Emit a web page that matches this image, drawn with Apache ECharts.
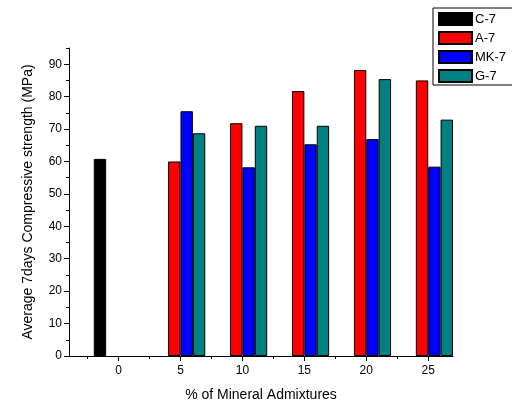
<!DOCTYPE html>
<html><head><meta charset="utf-8">
<script src="https://cdn.jsdelivr.net/npm/echarts@6/dist/echarts.min.js"></script>
<style>html,body{margin:0;padding:0;background:#fff}#c{width:512px;height:407px}</style>
</head><body><div id="c"></div>
<script>
const categories = [0, 5, 10, 15, 20, 25];
const seriesNames = ['C-7', 'A-7', 'MK-7', 'G-7'];
const c7 = [60.8, null, null, null, null, null];
const a7 = [null, 60.0, 71.8, 81.7, 88.2, 85.0];
const mk7 = [null, 75.5, 58.2, 65.3, 66.9, 58.4];
const g7 = [null, 68.7, 71.0, 71.0, 85.4, 72.9];
const xTickLabels = [0, 5, 10, 15, 20, 25];
const xMinorTicks = [-2.5, 2.5, 7.5, 12.5, 17.5, 22.5];
const yTickLabels = [0, 10, 20, 30, 40, 50, 60, 70, 80, 90];
const yMinorTicks = [5, 15, 25, 35, 45, 55, 65, 75, 85, 95];

const colors = ['#000000', '#ff0000', '#0000ff', '#008080'];
const offsets = [-1.5, -0.5, 0.5, 1.5];
const allVals = [c7, a7, mk7, g7];

const chart = echarts.init(document.getElementById('c'));
const font = 'Liberation Sans, Arial, sans-serif';
const axisLine = {show: true, onZero: false, lineStyle: {color: '#000', width: 1}};
chart.setOption({
  animation: false,
  backgroundColor: '#fff',
  textStyle: {fontFamily: font, color: '#000'},
  grid: {left: 69, right: 59, top: 48, bottom: 49},
  legend: {
    orient: 'vertical', left: 433, top: 8,
    icon: 'rect', itemWidth: 33, itemHeight: 12, itemGap: 5,
    padding: [4, 10, 2, 5],
    borderColor: '#000', borderWidth: 1, borderRadius: 0, backgroundColor: '#fff',
    textStyle: {fontSize: 13, color: '#000', fontFamily: font, padding: [0, 0, 0, -2]},
    data: seriesNames
  },
  xAxis: [
    {type: 'value', min: -4, max: 27, axisLine,
     splitLine: {show: false},
     axisTick: {show: true, inside: false, length: 5, customValues: xTickLabels, lineStyle: {color: '#000'}},
     axisLabel: {customValues: xTickLabels, fontSize: 12, color: '#000', margin: 9, fontFamily: font},
     name: '% of Mineral Admixtures', nameLocation: 'middle', nameGap: 32,
     nameTextStyle: {fontSize: 14, color: '#000', fontFamily: font}},
    {type: 'value', min: -4, max: 27, position: 'bottom', axisLine: {show: false, onZero: false},
     splitLine: {show: false},
     axisTick: {show: true, inside: false, length: 3, customValues: xMinorTicks, lineStyle: {color: '#000'}},
     axisLabel: {show: false}}
  ],
  yAxis: [
    {type: 'value', min: 0, max: 95, axisLine,
     splitLine: {show: false},
     axisTick: {show: true, inside: false, length: 5, customValues: yTickLabels, lineStyle: {color: '#000'}},
     axisLabel: {customValues: yTickLabels, fontSize: 12, color: '#000', margin: 7, fontFamily: font},
     name: 'Average 7days Compressive strength (MPa)', nameLocation: 'middle', nameGap: 34,
     nameTextStyle: {fontSize: 14, color: '#000', fontFamily: font}},
    {type: 'value', min: 0, max: 95, position: 'left', axisLine: {show: false, onZero: false},
     splitLine: {show: false},
     axisTick: {show: true, inside: false, length: 3, customValues: yMinorTicks, lineStyle: {color: '#000'}},
     axisLabel: {show: false}}
  ],
  series: seriesNames.map((name, s) => ({
    name, type: 'bar', xAxisIndex: 0, yAxisIndex: 0,
    barWidth: 12.4, barGap: '-100%',
    itemStyle: {color: colors[s], borderColor: '#000', borderWidth: 1},
    data: categories.map((c, i) => allVals[s][i] == null ? null : [c + offsets[s], allVals[s][i]])
      .filter(d => d !== null)
  }))
});
</script></body></html>
